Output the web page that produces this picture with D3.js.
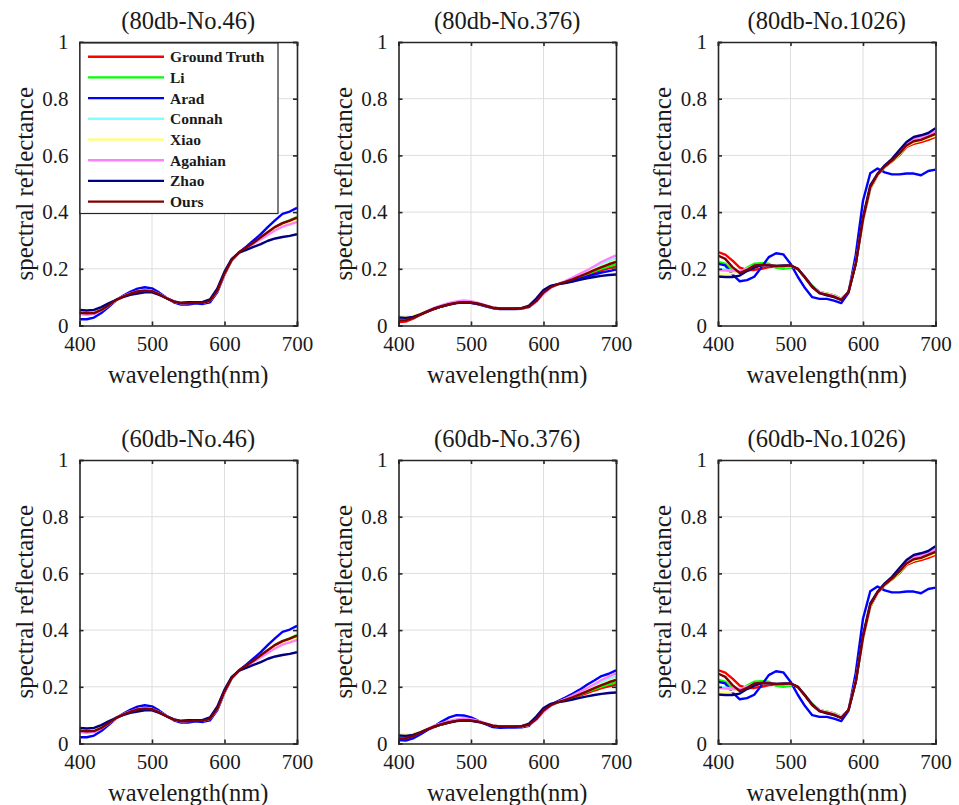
<!DOCTYPE html>
<html>
<head>
<meta charset="utf-8">
<script src="https://cdn.jsdelivr.net/npm/d3@7"></script>
<style>
  body { margin: 0; background: #fff; }
</style>
</head>
<body>
<div id="chart"></div>
<script>
// spectral reflectance, 6 small panels (3 samples x 2 noise levels)

var wavelengths = [400,410,420,430,440,450,460,470,480,490,500,510,520,530,540,550,
                   560,570,580,590,600,610,620,630,640,650,660,670,680,690,700];

var methods = ["Ground Truth", "Li", "Arad", "Connah", "Xiao", "Agahian", "Zhao", "Ours"];
var colors  = ["#ff0000", "#00ff00", "#0000ff", "#80ffff", "#ffff80", "#ff80ff", "#000080", "#800000"];

var titles = ["(80db-No.46)", "(80db-No.376)", "(80db-No.1026)",
              "(60db-No.46)", "(60db-No.376)", "(60db-No.1026)"];

var xTicks = [400, 500, 600, 700];
var yTicks = [0, 0.2, 0.4, 0.6, 0.8, 1];

// --- No.46 ---
var gt46      = [0.042,0.040,0.042,0.054,0.071,0.089,0.102,0.111,0.119,0.123,0.121,0.111,0.097,0.085,0.078,0.079,0.080,0.080,0.087,0.122,0.182,0.230,0.257,0.274,0.291,0.309,0.327,0.344,0.357,0.367,0.378];
var li46      = [0.044,0.042,0.044,0.056,0.072,0.090,0.103,0.112,0.119,0.122,0.120,0.110,0.096,0.084,0.078,0.079,0.081,0.081,0.088,0.122,0.181,0.229,0.256,0.273,0.291,0.310,0.329,0.347,0.361,0.371,0.382];
var arad46    = [0.022,0.022,0.028,0.044,0.065,0.088,0.105,0.119,0.130,0.135,0.131,0.116,0.098,0.082,0.074,0.074,0.078,0.076,0.082,0.117,0.180,0.232,0.258,0.278,0.300,0.322,0.348,0.372,0.394,0.402,0.415];
var connah46  = [0.046,0.044,0.045,0.056,0.072,0.089,0.102,0.111,0.118,0.122,0.120,0.110,0.097,0.085,0.079,0.080,0.081,0.081,0.088,0.123,0.182,0.230,0.256,0.272,0.288,0.305,0.322,0.338,0.351,0.360,0.370];
var xiao46    = [0.048,0.046,0.047,0.057,0.072,0.089,0.102,0.111,0.118,0.121,0.119,0.109,0.096,0.084,0.079,0.080,0.081,0.081,0.088,0.123,0.183,0.231,0.256,0.272,0.289,0.306,0.323,0.339,0.352,0.361,0.372];
var agahian46 = [0.040,0.038,0.041,0.053,0.070,0.089,0.103,0.113,0.121,0.125,0.122,0.111,0.097,0.085,0.078,0.079,0.080,0.080,0.087,0.121,0.181,0.230,0.256,0.272,0.288,0.304,0.320,0.336,0.349,0.357,0.365];
var zhao46    = [0.055,0.053,0.055,0.065,0.078,0.090,0.100,0.108,0.113,0.117,0.117,0.108,0.096,0.085,0.080,0.082,0.082,0.083,0.092,0.130,0.190,0.235,0.257,0.267,0.277,0.287,0.299,0.307,0.312,0.316,0.322];
var ours46    = [0.045,0.043,0.044,0.055,0.071,0.089,0.102,0.112,0.120,0.123,0.121,0.110,0.096,0.084,0.078,0.079,0.080,0.080,0.087,0.122,0.183,0.231,0.258,0.275,0.292,0.311,0.330,0.348,0.361,0.370,0.381];

// --- No.376 ---
var gt376      = [0.012,0.014,0.024,0.037,0.049,0.059,0.068,0.075,0.080,0.082,0.081,0.077,0.070,0.063,0.060,0.060,0.060,0.061,0.066,0.086,0.116,0.135,0.145,0.152,0.160,0.169,0.178,0.187,0.195,0.202,0.208];
var li376      = [0.020,0.021,0.027,0.038,0.050,0.060,0.068,0.075,0.080,0.082,0.081,0.077,0.070,0.063,0.060,0.060,0.060,0.061,0.066,0.086,0.116,0.135,0.145,0.153,0.162,0.172,0.182,0.192,0.201,0.209,0.215];
var arad376    = [0.022,0.022,0.028,0.039,0.050,0.060,0.068,0.075,0.080,0.082,0.080,0.075,0.068,0.061,0.058,0.058,0.058,0.059,0.066,0.090,0.122,0.139,0.146,0.151,0.157,0.164,0.172,0.180,0.187,0.192,0.197];
var connah376  = [0.025,0.025,0.030,0.040,0.051,0.061,0.069,0.076,0.081,0.083,0.082,0.077,0.070,0.063,0.060,0.060,0.060,0.061,0.066,0.085,0.114,0.134,0.146,0.156,0.167,0.179,0.191,0.203,0.215,0.227,0.237];
var xiao376    = [0.035,0.032,0.034,0.042,0.052,0.061,0.069,0.075,0.080,0.082,0.081,0.077,0.070,0.063,0.060,0.060,0.060,0.061,0.066,0.085,0.115,0.135,0.146,0.155,0.165,0.176,0.187,0.198,0.209,0.219,0.228];
var agahian376 = [0.020,0.021,0.027,0.039,0.052,0.063,0.072,0.080,0.085,0.088,0.086,0.080,0.072,0.064,0.060,0.060,0.060,0.061,0.065,0.083,0.112,0.133,0.146,0.157,0.169,0.182,0.195,0.209,0.224,0.236,0.247];
var zhao376    = [0.028,0.027,0.030,0.039,0.050,0.060,0.068,0.074,0.079,0.081,0.080,0.076,0.069,0.062,0.059,0.059,0.059,0.061,0.070,0.095,0.125,0.140,0.146,0.150,0.155,0.161,0.166,0.171,0.175,0.178,0.180];
var ours376    = [0.018,0.019,0.026,0.038,0.050,0.060,0.068,0.075,0.080,0.082,0.081,0.077,0.070,0.063,0.060,0.060,0.060,0.061,0.066,0.086,0.116,0.135,0.146,0.154,0.163,0.173,0.184,0.195,0.206,0.216,0.224];
// Arad at 60db differs visibly on this sample
var arad376_60 = [0.012,0.010,0.018,0.032,0.048,0.062,0.078,0.092,0.100,0.099,0.092,0.080,0.068,0.058,0.055,0.056,0.056,0.057,0.062,0.090,0.118,0.137,0.150,0.162,0.175,0.190,0.207,0.222,0.238,0.246,0.258];

// --- No.1026 ---
var gt1026      = [0.259,0.250,0.229,0.204,0.196,0.196,0.200,0.206,0.208,0.206,0.208,0.200,0.170,0.138,0.118,0.112,0.106,0.094,0.118,0.218,0.370,0.482,0.530,0.559,0.579,0.600,0.630,0.641,0.647,0.655,0.665];
var li1026      = [0.224,0.218,0.194,0.188,0.204,0.218,0.220,0.218,0.204,0.200,0.204,0.200,0.170,0.141,0.118,0.112,0.106,0.094,0.118,0.218,0.372,0.484,0.531,0.560,0.581,0.603,0.634,0.646,0.653,0.662,0.672];
var arad1026    = [0.218,0.212,0.180,0.156,0.160,0.172,0.205,0.241,0.255,0.251,0.218,0.172,0.132,0.100,0.094,0.094,0.088,0.079,0.115,0.250,0.440,0.537,0.554,0.540,0.533,0.533,0.536,0.536,0.530,0.545,0.550];
var connah1026  = [0.200,0.198,0.192,0.190,0.200,0.210,0.213,0.212,0.210,0.209,0.210,0.200,0.170,0.138,0.117,0.111,0.105,0.093,0.118,0.220,0.374,0.486,0.532,0.561,0.583,0.605,0.636,0.650,0.657,0.667,0.680];
var xiao1026    = [0.182,0.181,0.184,0.188,0.200,0.210,0.213,0.212,0.210,0.209,0.210,0.200,0.170,0.138,0.117,0.111,0.105,0.093,0.118,0.219,0.372,0.484,0.531,0.560,0.581,0.603,0.633,0.646,0.652,0.661,0.670];
var agahian1026 = [0.196,0.194,0.192,0.192,0.200,0.210,0.213,0.212,0.210,0.209,0.210,0.200,0.170,0.137,0.116,0.110,0.104,0.092,0.118,0.220,0.375,0.488,0.533,0.562,0.584,0.608,0.640,0.656,0.663,0.673,0.685];
var zhao1026    = [0.173,0.171,0.171,0.176,0.192,0.204,0.212,0.212,0.210,0.212,0.212,0.200,0.170,0.138,0.114,0.106,0.100,0.090,0.118,0.218,0.382,0.494,0.535,0.565,0.588,0.618,0.647,0.665,0.671,0.679,0.696];
var ours1026    = [0.247,0.235,0.206,0.185,0.196,0.212,0.214,0.212,0.210,0.210,0.212,0.200,0.168,0.135,0.114,0.109,0.102,0.090,0.118,0.218,0.376,0.488,0.533,0.561,0.582,0.606,0.635,0.650,0.655,0.665,0.676];

// series per panel, same order as `methods`
var panelSeries = [
  [gt46, li46, arad46, connah46, xiao46, agahian46, zhao46, ours46],
  [gt376, li376, arad376, connah376, xiao376, agahian376, zhao376, ours376],
  [gt1026, li1026, arad1026, connah1026, xiao1026, agahian1026, zhao1026, ours1026],
  [gt46, li46, arad46, connah46, xiao46, agahian46, zhao46, ours46],
  [gt376, li376, arad376_60, connah376, xiao376, agahian376, zhao376, ours376],
  [gt1026, li1026, arad1026, connah1026, xiao1026, agahian1026, zhao1026, ours1026]
];

// ------- layout -------
var W = 959, H = 805;
var colLeft = [79.5, 398.5, 718];
var rowTop = [42, 460];
var pw = 217.5, ph = 283.5;
var axisColor = "#262626";
var serif = "'Liberation Serif', 'Times New Roman', Times, serif";

var svg = d3.select("#chart").append("svg")
  .attr("width", W).attr("height", H);

var x = d3.scaleLinear().domain([400, 700]).range([0, pw]);
var y = d3.scaleLinear().domain([0, 1]).range([ph, 0]);

var line = d3.line()
  .x(function(d) { return x(d[0]); })
  .y(function(d) { return y(d[1]); });

function draw_panel(i) {
  var left = colLeft[i % 3], top = rowTop[Math.floor(i / 3)];
  var g = svg.append("g").attr("transform", "translate(" + left + "," + top + ")");

  g.append("rect").attr("width", pw).attr("height", ph).attr("fill", "#fff");

  // grid
  g.append("g").selectAll("line").data(xTicks.slice(1, -1)).enter().append("line")
    .attr("x1", function(d) { return x(d); }).attr("x2", function(d) { return x(d); })
    .attr("y1", 0).attr("y2", ph)
    .attr("stroke", "#dedede").attr("stroke-width", 1);
  g.append("g").selectAll("line").data(yTicks.slice(1, -1)).enter().append("line")
    .attr("y1", function(d) { return y(d); }).attr("y2", function(d) { return y(d); })
    .attr("x1", 0).attr("x2", pw)
    .attr("stroke", "#dedede").attr("stroke-width", 1);

  // curves
  g.append("clipPath").attr("id", "clip" + i)
    .append("rect").attr("width", pw).attr("height", ph);
  var curves = g.append("g").attr("clip-path", "url(#clip" + i + ")");
  panelSeries[i].forEach(function(vals, k) {
    curves.append("path")
      .datum(wavelengths.map(function(w, j) { return [w, vals[j]]; }))
      .attr("d", line)
      .attr("fill", "none")
      .attr("stroke", colors[k])
      .attr("stroke-width", 2.4)
      .attr("stroke-linejoin", "round");
  });

  // axes (ticks inward on all four sides, MATLAB style)
  var ax = g.append("g").attr("class", "axes");
  ax.append("g").attr("transform", "translate(0," + ph + ")")
    .call(d3.axisBottom(x).tickValues(xTicks).tickSize(-4).tickPadding(11).tickFormat(d3.format("d")));
  ax.append("g")
    .call(d3.axisTop(x).tickValues(xTicks).tickSize(-4).tickFormat(""));
  ax.append("g")
    .call(d3.axisLeft(y).tickValues(yTicks).tickSize(-4).tickPadding(11)
      .tickFormat(function(d) { return d === 0 ? "0" : d === 1 ? "1" : d3.format(".1f")(d); }));
  ax.append("g").attr("transform", "translate(" + pw + ",0)")
    .call(d3.axisRight(y).tickValues(yTicks).tickSize(-4).tickFormat(""));
  ax.selectAll(".domain").attr("stroke", axisColor).attr("stroke-width", 1.6);
  ax.selectAll(".tick line").attr("stroke", axisColor).attr("stroke-width", 1.6);
  ax.selectAll(".tick text").style("font-size", "21px");

  g.append("text")
    .attr("x", pw / 2).attr("y", -13)
    .attr("text-anchor", "middle")
    .style("font-size", "24.5px")
    .text(titles[i]);

  g.append("text")
    .attr("x", pw / 2).attr("y", ph + 57)
    .attr("text-anchor", "middle")
    .style("font-size", "24.5px")
    .text("wavelength(nm)");

  g.append("text")
    .attr("transform", "translate(-47," + (ph / 2) + ") rotate(-90)")
    .attr("text-anchor", "middle")
    .style("font-size", "25px")
    .text("spectral reflectance");

  return g;
}

var panels = d3.range(6).map(draw_panel);

// legend sits inside the first panel
function draw_legend(g) {
  var lg = g.append("g").attr("transform", "translate(0.5,1)");
  lg.append("rect")
    .attr("width", 198).attr("height", 170.5)
    .attr("fill", "#fff").attr("stroke", axisColor).attr("stroke-width", 1.2);
  var rows = lg.selectAll("g.item").data(methods).enter().append("g")
    .attr("class", "item")
    .attr("transform", function(d, i) { return "translate(0," + (13.7 + i * 20.7) + ")"; });
  rows.append("line")
    .attr("x1", 8).attr("x2", 84)
    .attr("stroke", function(d, i) { return colors[i]; })
    .attr("stroke-width", 2.4);
  rows.append("text")
    .attr("x", 90).attr("y", 5.5)
    .style("font-size", "15.5px").style("font-weight", "bold")
    .text(function(d) { return d; });
}

draw_legend(panels[0]);

// serif everywhere, overriding the axis default
svg.selectAll("text")
  .style("font-family", serif)
  .attr("fill", "#1a1a1a");
</script>
</body>
</html>
